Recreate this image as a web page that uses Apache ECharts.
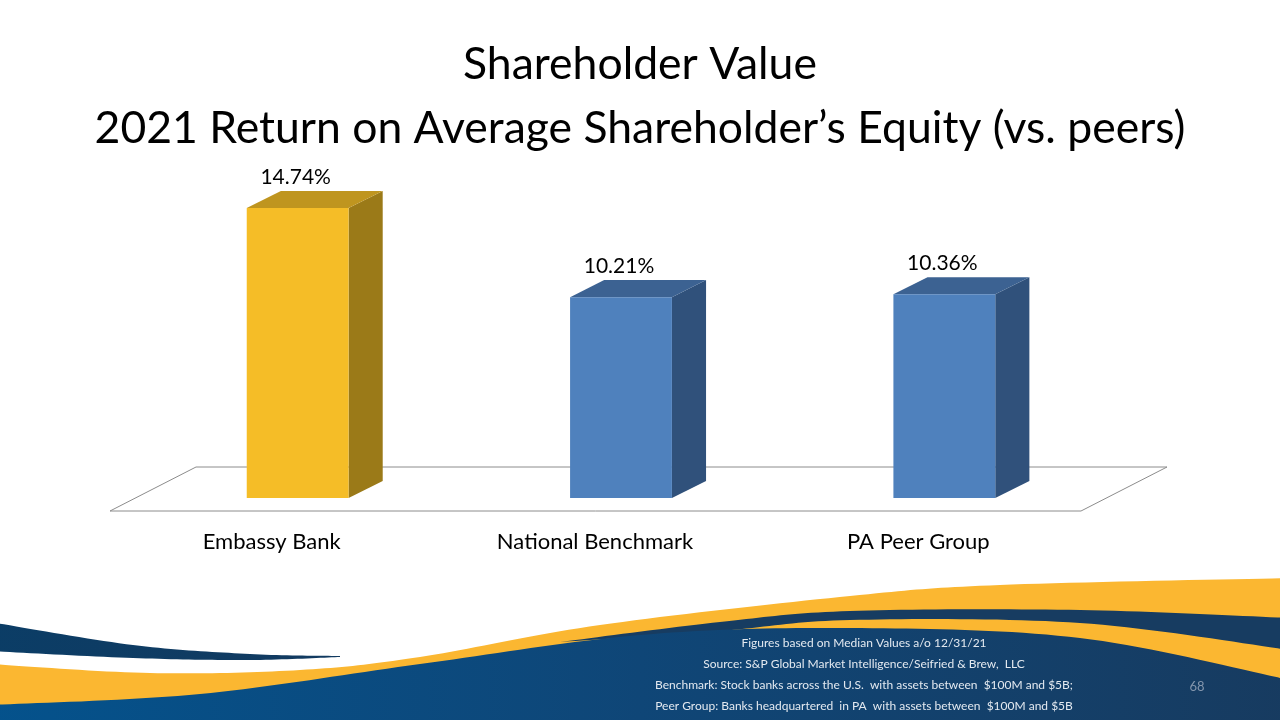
<!DOCTYPE html>
<html>
<head>
<meta charset="utf-8">
<script src="https://cdn.jsdelivr.net/npm/echarts@6/dist/echarts.min.js"></script>
<style>
	html, body { margin: 0; padding: 0; background: #fff; }
	#chart { width: 1280px; height: 720px; }
</style>
</head>
<body>
<div id="chart"></div>
<script>
var categories = ['Embassy Bank', 'National Benchmark', 'PA Peer Group'];
var roeValues = [14.74, 10.21, 10.36];
var footnotes = [
	'Figures based on Median Values a/o 12/31/21',
	'Source: S&P Global Market Intelligence/Seifried & Brew,  LLC',
	'Benchmark: Stock banks across the U.S.  with assets between  $100M and $5B;',
	'Peer Group: Banks headquartered  in PA  with assets between  $100M and $5B'
];

var chart = echarts.init(document.getElementById('chart'));

// front / top / side colours for each bar
var faceColors = [
	['#f5bd27', '#bf951f', '#9b7a18'],
	['#4f81bd', '#3c6292', '#30517b'],
	['#4f81bd', '#3c6292', '#30517b']
];
var FONT = 'Lato, "Open Sans", sans-serif';

// catmull-rom through a few points, just for the decorative swoosh
function spline(pts, steps) {
	var out = [];
	var n = pts.length;
	for (var i = 0; i < n - 1; i++) {
		var p0 = pts[Math.max(i - 1, 0)], p1 = pts[i], p2 = pts[i + 1], p3 = pts[Math.min(i + 2, n - 1)];
		for (var s = 0; s < steps; s++) {
			var t = s / steps, t2 = t * t, t3 = t2 * t;
			var pt = [0, 1].map(function(k) {
				return 0.5 * ((2 * p1[k]) + (-p0[k] + p2[k]) * t + (2 * p0[k] - 5 * p1[k] + 4 * p2[k] - p3[k]) * t2 + (-p0[k] + 3 * p1[k] - 3 * p2[k] + p3[k]) * t3);
			});
			out.push(pt);
		}
	}
	out.push(pts[n - 1]);
	return out;
}

var yellowTop = spline([[-10, 664], [150, 673], [300, 670], [420, 657], [600, 625], [850, 596], [1000, 585], [1290, 578]], 20);
var swooshTop = spline([[560, 642], [720, 622], [850, 611], [1080, 610], [1290, 618]], 20);
var swooshBot = spline([[560, 642], [720, 631], [850, 620], [1080, 623], [1290, 650]], 20);
var bodyTop = spline([[-10, 705], [200, 694], [420, 664], [640, 635], [850, 628], [1080, 638], [1290, 680]], 20);
var leftTop = spline([[-10, 622], [133, 645], [250, 654], [340, 656]], 20);
var leftBot = spline([[-10, 651], [133, 658], [250, 660], [340, 657]], 20);

var graphics = [
	{ type: 'polygon', z: 1, shape: { points: yellowTop.concat([[1290, 730], [-10, 730]]) }, style: { fill: '#fbb731' } },
	{ type: 'polygon', z: 2, shape: { points: swooshTop.concat(swooshBot.slice().reverse()) }, style: { fill: '#173c61' } },
	{
		type: 'polygon', z: 3,
		shape: { points: bodyTop.concat([[1290, 730], [-10, 730]]) },
		style: {
			fill: {
				type: 'linear', x: 0, y: 0, x2: 1, y2: 0,
				colorStops: [{ offset: 0, color: '#04528c' }, { offset: 0.5, color: '#0f4677' }, { offset: 1, color: '#173b60' }]
			}
		}
	},
	{
		type: 'polygon', z: 3,
		shape: { points: leftTop.concat(leftBot.slice().reverse()) },
		style: {
			fill: {
				type: 'linear', x: 0, y: 0, x2: 1, y2: 0,
				colorStops: [{ offset: 0, color: '#0b3d66' }, { offset: 1, color: '#123a60' }]
			}
		}
	},
	{
		type: 'text', z: 5,
		style: { text: '68', x: 1197, y: 687, fill: '#8496ad', font: '13px ' + FONT, textAlign: 'center', textVerticalAlign: 'middle' }
	}
];
footnotes.forEach(function(line, i) {
	graphics.push({
		type: 'text', z: 5,
		style: {
			text: line, x: 864, y: 643 + i * 21,
			fill: '#e3e9f0', font: '12px ' + FONT,
			textAlign: 'center', textVerticalAlign: 'middle'
		}
	});
});

var option = {
	backgroundColor: '#ffffff',
	animation: false,
	title: {
		text: 'Shareholder Value\n2021 Return on Average Shareholder\u2019s Equity (vs. peers)',
		left: 'center',
		top: 28,
		textStyle: {
			fontFamily: FONT,
			fontSize: 44.5,
			fontWeight: 'normal',
			color: '#000',
			lineHeight: 64
		}
	},
	grid: {
		left: 136,
		right: 174,
		top: 203,
		bottom: 222
	},
	xAxis: {
		type: 'category',
		data: categories,
		axisLine: { show: false },
		axisTick: { show: false },
		axisLabel: {
			color: '#000',
			fontFamily: FONT,
			fontSize: 22,
			margin: 33,
			padding: [0, 52, 0, 0]
		}
	},
	yAxis: {
		type: 'value',
		min: 0,
		max: 15,
		show: false
	},
	graphic: graphics,
	series: [{
		// floor of the 3d plot area
		type: 'custom',
		z: 1,
		data: [[0, 0]],
		renderItem: function(params, api) {
			var cs = params.coordSys;
			var base = api.coord([0, 0])[1];
			return {
				type: 'polygon',
				shape: {
					points: [
						[cs.x - 26, base + 13],
						[cs.x + cs.width - 25, base + 13],
						[cs.x + cs.width + 61, base - 31],
						[cs.x + 60, base - 31]
					]
				},
				style: { fill: '#fff', stroke: '#8c8c8c', lineWidth: 1 }
			};
		}
	}, {
		type: 'custom',
		z: 2,
		data: roeValues.map(function(v, i) { return [i, v]; }),
		encode: { x: 0, y: 1 },
		renderItem: function(params, api) {
			var ci = api.value(0);
			var v = api.value(1);
			var top = api.coord([ci, v]);
			var base = api.coord([ci, 0]);
			var bw = api.size([1, 0])[0] * 0.315;
			var dx = bw * 0.335, dy = -bw * 0.168;
			var x0 = top[0] - bw / 2, x1 = x0 + bw;
			var c = faceColors[ci];
			return {
				type: 'group',
				children: [{
					type: 'polygon',
					shape: { points: [[x1, top[1]], [x1 + dx, top[1] + dy], [x1 + dx, base[1] + dy], [x1, base[1]]] },
					style: { fill: c[2] }
				}, {
					type: 'polygon',
					shape: { points: [[x0, top[1]], [x0 + dx, top[1] + dy], [x1 + dx, top[1] + dy], [x1, top[1]]] },
					style: { fill: c[1] }
				}, {
					type: 'rect',
					shape: { x: x0, y: top[1], width: bw, height: base[1] - top[1] },
					style: { fill: c[0] }
				}, {
					type: 'text',
					style: {
						text: v.toFixed(2) + '%',
						x: top[0] - 2,
						y: top[1] + dy - 14,
						fill: '#000',
						font: '21px ' + FONT,
						textAlign: 'center',
						textVerticalAlign: 'middle'
					}
				}]
			};
		}
	}]
};

chart.setOption(option);
</script>
</body>
</html>
